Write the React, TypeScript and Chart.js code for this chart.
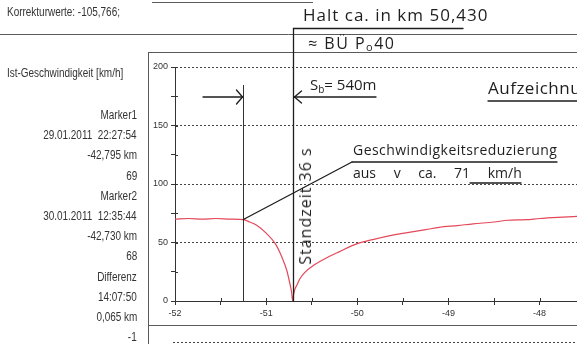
import React, { useEffect, useRef } from 'react';
import { Chart, registerables } from 'chart.js';

Chart.register(...registerables);

// ---- data ----
const distanceKm = [-52, -51.85, -51.7, -51.55, -51.4, -51.25, -51.18, -51.1, -51.0, -50.9, -50.83, -50.775, -50.74, -50.72, -50.71, -50.70, -50.687, -50.66, -50.63, -50.575, -50.48, -50.37, -50.2, -50.0, -49.83, -49.6, -49.45, -49.25, -49.1, -48.9, -48.73, -48.5, -48.35, -48.15, -48.0, -47.8, -47.55];
const speedKmh = [70, 70.5, 70, 70.5, 70, 69.5, 67.5, 64.5, 58, 49, 38, 26.5, 15, 7, 0, 5, 9.5, 14, 19, 24.5, 30.5, 35.5, 42, 49, 52.5, 56.5, 58.5, 61, 63, 64.5, 66, 67.5, 69, 69.5, 70.5, 71.5, 72.5];

const xMin = -52;
const xMax = -47.59;
const yMin = 0;
const yMax = 200;
const xTickStep = 0.5;
const yTickStep = 25;
const yLabelStep = 50;

const marker1Km = -51.25;
const marker1Speed = 69.7;
const marker2Km = -50.71;

const headerText = 'Korrekturwerte: -105,766;';
const axisTitle = 'Ist-Geschwindigkeit [km/h]';
const panelLines = [
  'Marker1',
  '29.01.2011  22:27:54',
  '-42,795 km',
  '69',
  'Marker2',
  '30.01.2011  12:35:44',
  '-42,730 km',
  '68',
  'Differenz',
  '14:07:50',
  '0,065 km',
  '-1',
];

const W = 577;
const H = 344;

const overlayPlugin = {
  id: 'overlay',
  afterDraw(chart: any) {
    const { ctx, scales } = chart;
    const x = scales.x;
    const y = scales.y;
    const line = (x1: number, y1: number, x2: number, y2: number) => {
      ctx.beginPath();
      ctx.moveTo(x1, y1);
      ctx.lineTo(x2, y2);
      ctx.stroke();
    };
    ctx.save();
    // printed frame lines
    ctx.strokeStyle = '#5a5a5a';
    ctx.lineWidth = 1;
    line(152, 2.5, 313, 2.5);
    line(0, 34.5, W, 34.5);
    line(148, 52.5, W, 52.5);
    line(148.5, 52, 148.5, H);
    line(148, 325.5, W, 325.5);
    ctx.setLineDash([2, 2]);
    ctx.strokeStyle = '#444';
    line(173, 342.5, W, 342.5);
    ctx.setLineDash([]);

    const y0 = y.getPixelForValue(0);
    const m1x = Math.round(x.getPixelForValue(marker1Km)) + 0.5;
    const m2x = Math.round(x.getPixelForValue(marker2Km)) + 0.5;

    // small cross-ticks inside the axes
    ctx.strokeStyle = '#333';
    ctx.lineWidth = 1;
    for (let v = xMin; v <= xMax; v += xTickStep) {
      const tx = Math.round(x.getPixelForValue(v)) + 0.5;
      line(tx, y0 - 3, tx, y0);
    }
    for (let v = yMin; v <= yMax; v += yTickStep) {
      const ty = Math.round(y.getPixelForValue(v)) + 0.5;
      line(x.left, ty, x.left + 3, ty);
    }

    // marker 1 line (thin)
    line(m1x, 85, m1x, y0);

    // handwritten strokes
    ctx.strokeStyle = '#1e1e1e';
    ctx.lineWidth = 1.3;
    ctx.lineCap = 'round';
    line(m2x, 28.5, m2x, y0);
    line(m2x, 28.5, 463, 28.5);
    // arrow pointing right onto marker 1
    line(203, 97, m1x - 1, 97);
    line(m1x - 7, 90, m1x - 1, 97);
    line(m1x - 7, 104, m1x - 1, 97);
    // arrow pointing left onto marker 2
    line(376, 97, m2x + 1, 97);
    line(m2x + 8, 91, m2x + 1, 97);
    line(m2x + 8, 103, m2x + 1, 97);
    // pointer to the braking start
    const px = x.getPixelForValue(marker1Km);
    const py = y.getPixelForValue(marker1Speed);
    line(px, py, 352, 162);
    line(352, 162, 557, 162);
    // small underline of km/h
    line(470, 183, 521, 183);
    // Aufzeichnung underline
    line(488, 101, W, 101);
    ctx.restore();
  },
};

const printedFont = '"Liberation Sans", Arial, Helvetica, sans-serif';
const handFont = '"Open Sans", "DejaVu Sans", sans-serif';

export default function App() {
  const canvasRef = useRef<HTMLCanvasElement>(null);

  useEffect(() => {
    const canvas = canvasRef.current;
    if (!canvas) return;
    const chart = new Chart(canvas, {
      type: 'scatter',
      data: {
        datasets: [
          {
            data: distanceKm.map((d, i) => ({ x: d, y: speedKmh[i] })),
            showLine: true,
            borderColor: '#e4485a',
            borderWidth: 1.2,
            pointRadius: 0,
            cubicInterpolationMode: 'monotone',
          } as any,
        ],
      },
      options: {
        animation: false,
        responsive: false,
        devicePixelRatio: 1,
        layout: { padding: { left: 148, top: 67, right: 0, bottom: 19 } },
        plugins: { legend: { display: false }, tooltip: { enabled: false } },
        scales: {
          x: {
            type: 'linear',
            min: xMin,
            max: xMax,
            afterFit: (s: any) => {
              s.height = 24;
            },
            ticks: {
              stepSize: xTickStep,
              includeBounds: false,
              autoSkip: false,
              maxRotation: 0,
              padding: 3,
              color: '#333',
              font: { family: printedFont, size: 9 },
              callback: (v: any) => (Number.isInteger(Number(v)) ? String(v) : ''),
            },
            grid: { drawOnChartArea: false, tickLength: 4, tickColor: '#333' },
            border: { color: '#333', width: 1 },
          },
          y: {
            type: 'linear',
            min: yMin,
            max: yMax,
            afterFit: (s: any) => {
              s.width = 27;
            },
            ticks: {
              stepSize: yTickStep,
              padding: 3,
              color: '#333',
              font: { family: printedFont, size: 9 },
              callback: (v: any) => (Number(v) % yLabelStep === 0 ? String(v) : ''),
            },
            grid: {
              color: (c: any) =>
                c.tick && c.tick.value > 0 && c.tick.value % yLabelStep === 0 ? '#444' : 'rgba(0,0,0,0)',
              lineWidth: 1,
              tickLength: 4,
              tickColor: '#333',
            },
            border: { color: '#333', width: 1, dash: [2, 2] },
          },
        },
      },
      plugins: [overlayPlugin],
    });
    return () => chart.destroy();
  }, []);

  const printed: React.CSSProperties = {
    position: 'absolute',
    fontFamily: printedFont,
    fontSize: 12,
    lineHeight: '14px',
    height: 14,
    color: '#333',
    whiteSpace: 'pre',
  };
  const hand: React.CSSProperties = {
    position: 'absolute',
    fontFamily: handFont,
    color: '#1e1e1e',
    whiteSpace: 'pre',
    lineHeight: '22px',
    height: 22,
  };

  return (
    <div
      style={{
        position: 'fixed',
        left: 0,
        top: 0,
        width: W,
        height: H,
        overflow: 'hidden',
        background: '#ffffff',
      }}
    >
      <canvas ref={canvasRef} width={W} height={H} style={{ position: 'absolute', left: 0, top: 0, width: W, height: H }} />
      <div style={{ ...printed, left: 7, top: 5, transform: 'scaleX(0.83)', transformOrigin: 'left center' }}>{headerText}</div>
      <div style={{ ...printed, left: 7, top: 66, transform: 'scaleX(0.83)', transformOrigin: 'left center' }}>{axisTitle}</div>
      {panelLines.map((t, i) => (
        <div
          key={i}
          style={{
            ...printed,
            right: W - 137,
            top: 115 + i * 20.2 - 7,
            textAlign: 'right',
            transform: 'scaleX(0.83)',
            transformOrigin: 'right center',
          }}
        >
          {t}
        </div>
      ))}
      <div style={{ ...hand, left: 303, top: 4, fontSize: 17, letterSpacing: 1 }}>Halt ca. in km 50,430</div>
      <div style={{ ...hand, left: 308, top: 32, fontSize: 16, letterSpacing: 1.5 }}>
        ≈ BÜ P<span style={{ fontSize: 11, verticalAlign: '-2px' }}>o</span>40
      </div>
      <div style={{ ...hand, left: 310, top: 73, fontSize: 15 }}>
        S<span style={{ fontSize: 10, verticalAlign: '-3px' }}>b</span>= 540m
      </div>
      <div style={{ ...hand, left: 488, top: 77, fontSize: 17, letterSpacing: 0.5 }}>Aufzeichnung</div>
      <div style={{ ...hand, left: 353, top: 139, fontSize: 14, letterSpacing: 0.45 }}>Geschwindigkeitsreduzierung</div>
      <div style={{ ...hand, left: 353, top: 162, fontSize: 14, wordSpacing: 14 }}>aus v ca. 71 km/h</div>
      <div
        style={{
          ...hand,
          left: 305,
          top: 206,
          fontSize: 16,
          letterSpacing: 1,
          transform: 'translate(-50%, -50%) rotate(-90deg)',
        }}
      >
        Standzeit 36 s
      </div>
    </div>
  );
}
